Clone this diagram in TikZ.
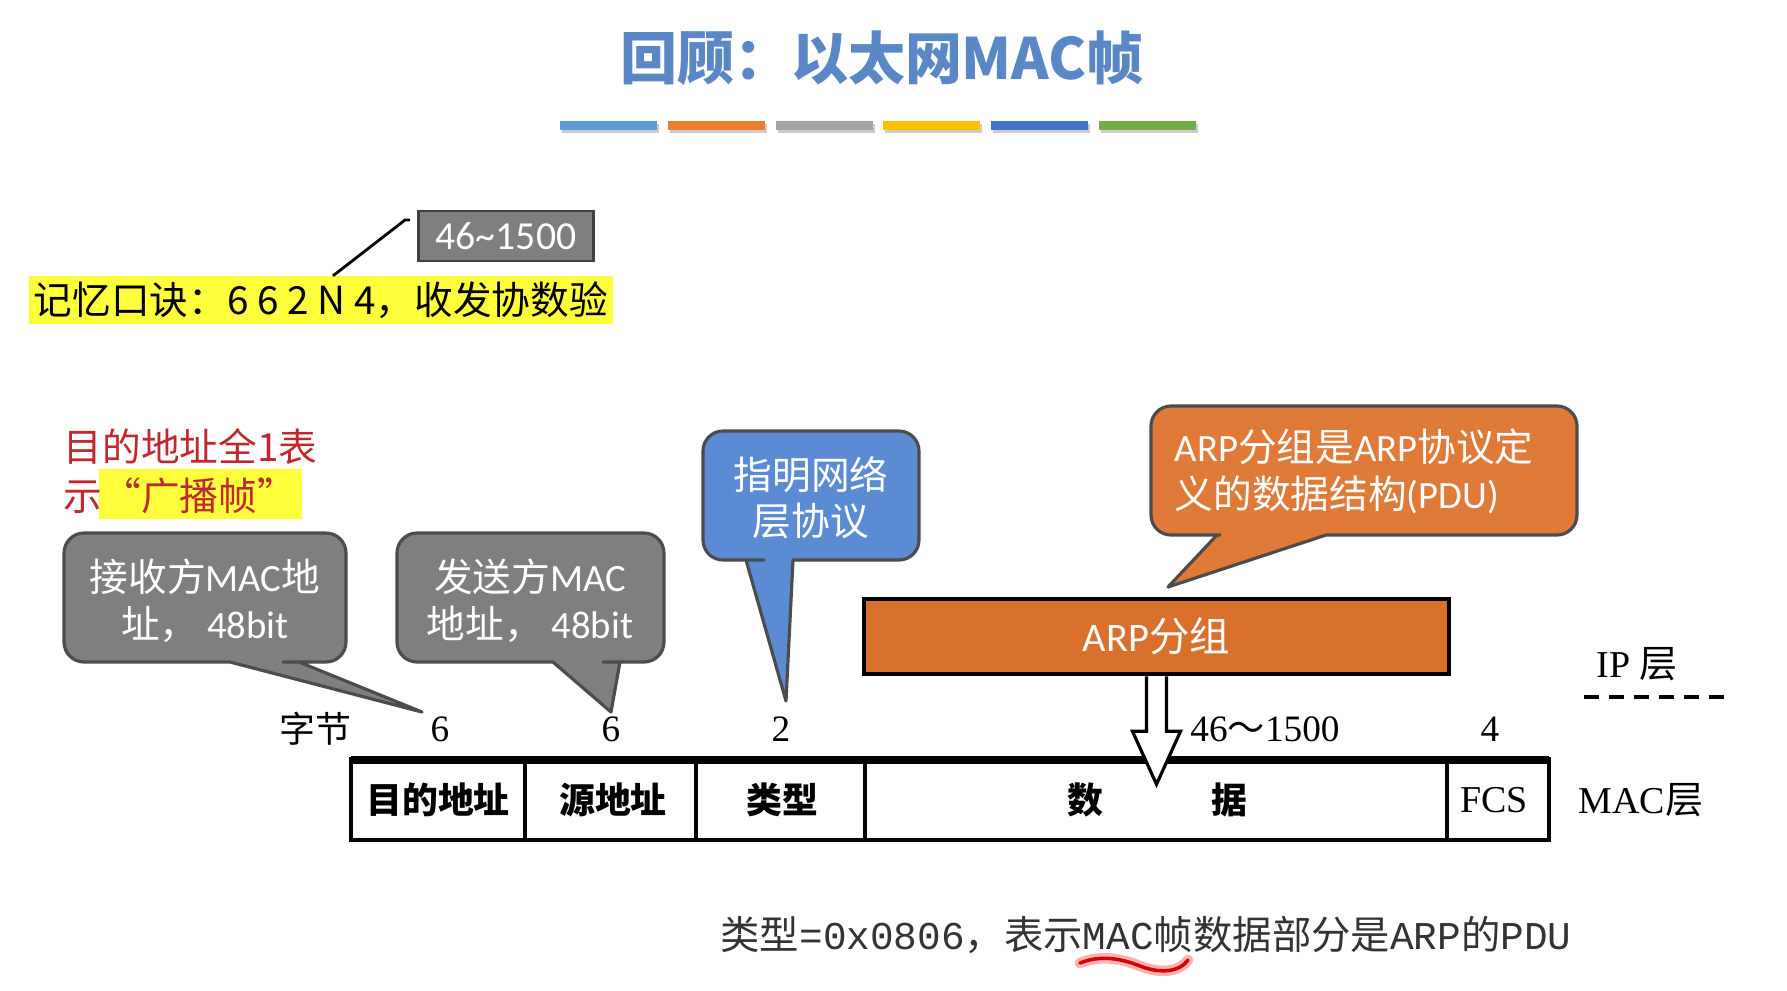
\documentclass[tikz,border=0pt]{standalone}
\usepackage{fontspec}
\setmainfont{Carlito}
\setmonofont{Liberation Mono}
\newfontfamily\hei{Noto Sans CJK SC}
\newfontfamily\song{Noto Sans CJK SC}
\newfontfamily\tms{Liberation Serif}
\usepackage{tikz}
\usetikzlibrary{calc}
\usepackage{xcolor}

\definecolor{ttlblue}{HTML}{5A87C5}
\definecolor{barA}{HTML}{5B9BD5}
\definecolor{barB}{HTML}{ED7D31}
\definecolor{barC}{HTML}{A5A5A5}
\definecolor{barD}{HTML}{FFC000}
\definecolor{barE}{HTML}{4472C4}
\definecolor{barF}{HTML}{70AD47}
\definecolor{boxgray}{HTML}{7F7F7F}
\definecolor{callblue}{HTML}{5B8BD3}
\definecolor{callorange}{HTML}{E07A38}
\definecolor{arporange}{HTML}{D9702C}
\definecolor{hlyellow}{HTML}{FFFF3C}
\definecolor{noteRed}{HTML}{C0282D}

\tikzset{
  bubble/.style={draw=black!70, line width=0.9pt, line join=round},
  bubtext/.style={text=white, align=center, inner sep=0pt, font=\fontsize{11}{13.4}\selectfont},
  field/.style={inner sep=0pt, font=\song\bfseries\fontsize{10.2}{12}\selectfont},
  count/.style={inner sep=0pt, font=\tms\fontsize{10.6}{12}\selectfont},
  hollow/.style={draw=black, fill=white, line width=0.9pt, line join=miter},
}

\begin{document}
\begin{tikzpicture}[x=0.01cm,y=-0.01cm]
  \useasboundingbox[fill=white] (0,0) rectangle (1787,990);

  % title and colour bars
  \node[text=ttlblue, font=\hei\bfseries\fontsize{16.2}{18}\selectfont] (title) at (882,58) {回顾：以太网MAC帧};
  \foreach \c [count=\i from 0] in {barA,barB,barC,barD,barE,barF} {
    \fill[black!20] (562+\i*107.8,124) rectangle ++(97,9);
    \fill[\c] (560+\i*107.8,121) rectangle ++(97,9);
  }

  % mnemonic
  \node[fill=hlyellow, inner sep=0pt, minimum width=5.84cm, minimum height=0.47cm, anchor=west,
        font=\hei\fontsize{11}{13}\selectfont] (mnem) at (28,300) {记忆口诀：6 6 2 N 4，收发协数验};
  \node[fill=boxgray, draw=black!75, line width=0.8pt, text=white, minimum width=1.75cm, minimum height=0.5cm,
        inner sep=0pt, font=\fontsize{11.3}{13}\selectfont] (len) at (506,236) {46\textasciitilde1500};
  \coordinate (kink) at (405,220);
  \draw[line width=0.8pt] ($(mnem.north west)+(305,0)$) -- (kink) -- ++(5,0);

  % broadcast note
  \fill[hlyellow] (99,469) rectangle (302,519);
  \node[anchor=west, align=left, text=noteRed, inner sep=0pt, font=\hei\fontsize{11}{14}\selectfont] (bcast) at (63,471) {目的地址全1表\\示“广播帧”};

  % callouts
  \draw[bubble, fill=boxgray] (150,662) [rounded corners=0.2cm] -- (64,662) -- (64,533) -- (346,533) -- (346,662) -- (303,662)
    [sharp corners] -- (299,662) -- (422,712) -- (230,662) -- cycle;
  \node[bubtext] (recv) at (205,601) {{\hei 接收方}MAC{\hei 地}\\{\hei 址，} 48bit};

  \draw[bubble, fill=boxgray] (470,662) [rounded corners=0.2cm] -- (397,662) -- (397,533) -- (664,533) -- (664,662) -- (623,662)
    [sharp corners] -- (620,662) -- (611,712) -- (553,662) -- cycle;
  \node[bubtext] (send) at (530,601) {{\hei 发送方}MAC\\{\hei 地址，} 48bit};

  \draw[bubble, fill=callblue] (850,560) [rounded corners=0.2cm] -- (919,560) -- (919,431) -- (703,431) -- (703,560) -- (744,560)
    [sharp corners] -- (746,560) -- (786,701) -- (793,560) -- cycle;
  \node[bubtext, font=\hei\fontsize{11}{13}\selectfont] (net) at (811,498) {指明网络\\层协议};

  \draw[bubble, fill=callorange] (1400,535) [rounded corners=0.2cm] -- (1577,535) -- (1577,406) -- (1151,406) -- (1151,535) -- (1200,535)
    [sharp corners] -- (1217,535) -- (1168,587) -- (1326,535) -- cycle;
  \node[bubtext, align=left, anchor=west] (pdu) at (1174,471) {ARP{\hei 分组是}ARP{\hei 协议定}\\{\hei 义的数据结构}(PDU)};

  % ARP packet
  \node[fill=arporange, draw=black, line width=1.3pt, minimum width=5.85cm, minimum height=0.75cm, inner sep=0pt,
        text=white, font=\fontsize{11.5}{13}\selectfont] (arp) at (1156.5,636.5) {ARP{\hei 分组}};
  \node[count, font=\tms\fontsize{10.8}{12}\selectfont] (iplayer) at (1637,664) {IP {\song 层}};
  \draw[line width=1pt, dash pattern=on 4.3pt off 2.8pt] (1584,697) -- (1732,697);

  % byte counts
  \node[count, font=\song\fontsize{10.2}{12}\selectfont] (bytes) at (315,729) {字节};
  \node[count] (n1) at (440,729) {6};
  \node[count] (n2) at (611,729) {6};
  \node[count] (n3) at (781,729) {2};
  \node[count] (n4) at (1265,729) {46{\song ～}1500};
  \node[count] (n5) at (1490,729) {4};

  % MAC frame
  \draw[line width=1pt] (351,759) rectangle (1549,840);
  \draw[line width=2.4pt] (351,760) -- (1549,760);
  \foreach \x in {525,696,865,1447}
    \draw[line width=1pt] (\x,759) -- (\x,840);
  \node[field] (dst) at (438,800) {目的地址};
  \node[field] (src) at (613,800) {源地址};
  \node[field] (typ) at (782,800) {类型};
  \node[field] (dat1) at (1085,800) {数};
  \node[field] (dat2) at (1229,800) {据};
  \node[count, font=\tms\fontsize{10.8}{12}\selectfont] (fcs) at (1494,800) {FCS};
  \node[count, font=\tms\fontsize{10.8}{12}\selectfont] (maclayer) at (1641,800) {MAC{\song 层}};

  % hollow arrow from packet into frame
  \draw[hollow] ($(arp.south)+(-10,0)$) -- ++(0,55) -- ++(-14,0) -- ($(arp.south)+(0,108)$)
    -- ($(arp.south)+(24,55)$) -- ++(-14,0) -- ($(arp.south)+(10,0)$);

  % note below
  \node[text=black!80, inner sep=0pt, font=\ttfamily\fontsize{11.2}{13}\selectfont] (note) at (1146,935)
    {{\song 类型}=0x0806{\song ，表示}MAC{\song 帧数据部分是}ARP{\song 的}PDU};
  \draw[red!30, line width=3pt, line cap=round] (1080,963) .. controls (1100,955) and (1120,958) .. (1140,966)
    .. controls (1160,974) and (1180,972) .. (1188,960);
  \draw[red!85!black, line width=1pt, line cap=round] (1080,963) .. controls (1100,955) and (1120,958) .. (1140,966)
    .. controls (1160,974) and (1180,972) .. (1188,960);
\end{tikzpicture}
\end{document}
